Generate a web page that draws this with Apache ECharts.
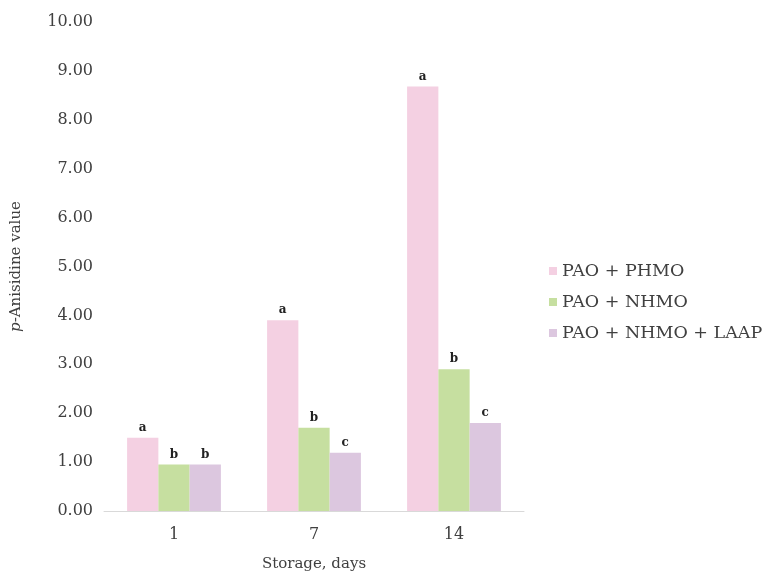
<!DOCTYPE html>
<html>
<head>
<meta charset="utf-8">
<script src="https://cdn.jsdelivr.net/npm/echarts@6/dist/echarts.min.js"></script>
<style>html,body{margin:0;padding:0;background:#fff;}#c{width:764px;height:572px;}</style>
</head>
<body>
<div id="c"></div>
<script>
var categories = ['1', '7', '14'];
var seriesNames = ['PAO + PHMO', 'PAO + NHMO', 'PAO + NHMO + LAAP'];
var phmo = [1.50, 3.90, 8.68];
var nhmo = [0.95, 1.70, 2.90];
var laap = [0.95, 1.19, 1.80];
var phmoLetters = ['a', 'a', 'a'];
var nhmoLetters = ['b', 'b', 'b'];
var laapLetters = ['b', 'c', 'c'];
var yTicks = [0, 1, 2, 3, 4, 5, 6, 7, 8, 9, 10];
var colors = ['#f4d0e2', '#c6dfa0', '#dcc7df'];

var font = 'DejaVu Serif';
function mk(name, data, letters, color) {
  return {
    name: name, type: 'bar', data: data, barGap: '0%', barCategoryGap: '33%',
    itemStyle: { color: color },
    label: {
      show: true, position: 'top', distance: 4,
      formatter: function (p) { return letters[p.dataIndex]; },
      fontFamily: font, fontWeight: 'bold', fontSize: 12, color: '#222'
    }
  };
}
var chart = echarts.init(document.getElementById('c'));
chart.setOption({
  animation: false,
  backgroundColor: '#fff',
  textStyle: { fontFamily: font },
  grid: { left: 104, right: 240, top: 22, bottom: 61, containLabel: false, outerBoundsMode: 'none' },
  legend: {
    orient: 'vertical', left: 544, top: 257, itemWidth: 8, itemHeight: 8, itemGap: 13,
    icon: 'rect', data: seriesNames,
    textStyle: { fontFamily: font, fontSize: 17.5, lineHeight: 17, color: '#404040' }
  },
  xAxis: {
    type: 'category', data: categories,
    name: 'Storage, days', nameLocation: 'middle', nameGap: 46,
    nameTextStyle: { fontFamily: font, fontSize: 15, color: '#404040' },
    axisLine: { lineStyle: { color: '#d9d9d9', width: 1 } },
    axisTick: { show: false },
    axisLabel: { fontFamily: font, fontSize: 16, color: '#404040', margin: 16 }
  },
  yAxis: {
    type: 'value', min: yTicks[0], max: yTicks[yTicks.length - 1], interval: 1,
    name: '{i|p}-Anisidine value', nameLocation: 'middle', nameGap: 80, nameRotate: 90,
    nameTextStyle: { fontFamily: font, fontSize: 15, color: '#404040',
      rich: { i: { fontStyle: 'italic', fontFamily: font, fontSize: 15, color: '#404040' } } },
    axisLine: { show: false }, axisTick: { show: false }, splitLine: { show: false },
    axisLabel: { fontFamily: font, fontSize: 16, color: '#404040', margin: 11,
      formatter: function (v) { return v.toFixed(2); } }
  },
  series: [
    mk(seriesNames[0], phmo, phmoLetters, colors[0]),
    mk(seriesNames[1], nhmo, nhmoLetters, colors[1]),
    mk(seriesNames[2], laap, laapLetters, colors[2])
  ]
});
</script>
</body>
</html>
